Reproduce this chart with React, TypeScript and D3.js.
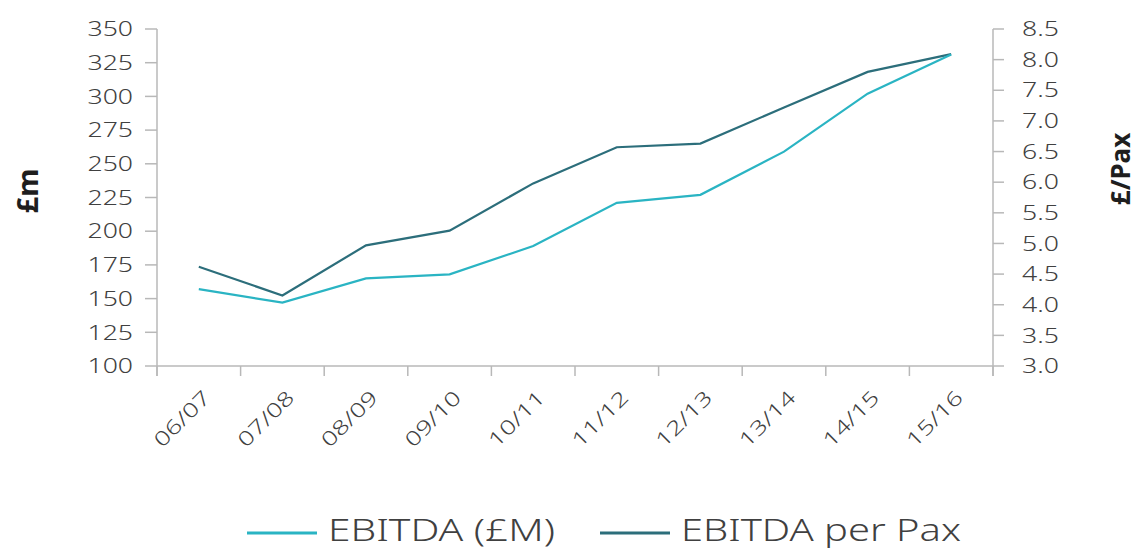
import React, { useRef, useEffect } from 'react';
import * as d3 from 'd3';

const years = ['06/07', '07/08', '08/09', '09/10', '10/11', '11/12', '12/13', '13/14', '14/15', '15/16'];
const ebitda = [157, 147, 165, 168, 189, 221, 227, 259, 302, 331];
const ebitdaPerPax = [4.62, 4.15, 4.97, 5.21, 5.98, 6.57, 6.63, 7.22, 7.8, 8.09];
const leftTicks = [100, 125, 150, 175, 200, 225, 250, 275, 300, 325, 350];
const rightTicks = [3.0, 3.5, 4.0, 4.5, 5.0, 5.5, 6.0, 6.5, 7.0, 7.5, 8.0, 8.5];

const W = 1138;
const H = 549;
const FONT = '"Noto Sans", sans-serif';
const LIGHT = '#2ab4c3';
const DARK = '#2c6e7b';
const AXIS = '#b8b8b8';
const TEXT = '#404040';
const SX = 1.33; // widen glyphs, the original face is a broad geometric sans

const App = () => {
  const ref = useRef<SVGSVGElement>(null);

  useEffect(() => {
    const svg = d3.select(ref.current);
    svg.selectAll('*').remove();

    const x0 = 157, x1 = 993, yTop = 29, yBot = 366;

    const x = d3.scaleBand<string>().domain(years).range([x0, x1]);
    const yL = d3.scaleLinear().domain([100, 350]).range([yBot, yTop]);
    const yR = d3.scaleLinear().domain([3, 8.5]).range([yBot, yTop]);

    // left axis
    const gl = svg.append('g').attr('transform', `translate(${x0},0)`);
    gl.append('line').attr('y1', yTop).attr('y2', yBot + 10).attr('stroke', AXIS).attr('stroke-width', 1.5);
    gl.selectAll('line.t').data(leftTicks).join('line').attr('class', 't')
      .attr('x1', -12).attr('x2', 0)
      .attr('y1', d => yL(d)).attr('y2', d => yL(d))
      .attr('stroke', AXIS).attr('stroke-width', 1.5);
    gl.selectAll('text').data(leftTicks).join('text')
      .attr('transform', d => `translate(-24,${yL(d)}) scale(${SX},1)`)
      .attr('dy', '0.36em')
      .attr('text-anchor', 'end').attr('font-size', 20).attr('fill', TEXT)
      .attr('font-family', FONT).attr('font-weight', 300)
      .text(d => d);

    // right axis
    const gr = svg.append('g').attr('transform', `translate(${x1},0)`);
    gr.append('line').attr('y1', yTop).attr('y2', yBot + 10).attr('stroke', AXIS).attr('stroke-width', 1.5);
    gr.selectAll('line.t').data(rightTicks).join('line').attr('class', 't')
      .attr('x1', 0).attr('x2', 11)
      .attr('y1', d => yR(d)).attr('y2', d => yR(d))
      .attr('stroke', AXIS).attr('stroke-width', 1.5);
    gr.selectAll('text').data(rightTicks).join('text')
      .attr('transform', d => `translate(29,${yR(d)}) scale(${SX},1)`)
      .attr('dy', '0.36em')
      .attr('text-anchor', 'start').attr('font-size', 20).attr('fill', TEXT)
      .attr('font-family', FONT).attr('font-weight', 300)
      .text(d => d3.format('.1f')(d));

    // bottom axis
    const gb = svg.append('g');
    gb.append('line').attr('x1', x0).attr('x2', x1).attr('y1', yBot).attr('y2', yBot)
      .attr('stroke', AXIS).attr('stroke-width', 1.5);
    const bounds = years.map(d => x(d) as number).concat([x1]);
    gb.selectAll('line.t').data(bounds).join('line').attr('class', 't')
      .attr('x1', d => d).attr('x2', d => d).attr('y1', yBot).attr('y2', yBot + 10)
      .attr('stroke', AXIS).attr('stroke-width', 1.5);
    gb.selectAll('text').data(years).join('text')
      .attr('transform', d => `translate(${(x(d) as number) + x.bandwidth() / 2 + 13},${yBot + 33}) rotate(-45) scale(${SX},1)`)
      .attr('text-anchor', 'end').attr('font-size', 20).attr('fill', TEXT)
      .attr('font-family', FONT).attr('font-weight', 300)
      .text(d => d);

    // axis titles
    svg.append('text')
      .attr('transform', `translate(38,191) rotate(-90)`)
      .attr('text-anchor', 'middle').attr('font-size', 29).attr('font-weight', 700)
      .attr('font-family', FONT).attr('fill', '#1e1e1e').text('£m');
    svg.append('text')
      .attr('transform', `translate(1130,169) rotate(-90)`)
      .attr('text-anchor', 'middle').attr('font-size', 26).attr('font-weight', 700)
      .attr('font-family', FONT).attr('fill', '#1e1e1e').text('£/Pax');

    // lines
    const cx = (d: string) => (x(d) as number) + x.bandwidth() / 2;
    const lineL = d3.line<number>().x((d, i) => cx(years[i])).y(d => yL(d));
    const lineR = d3.line<number>().x((d, i) => cx(years[i])).y(d => yR(d));
    svg.append('path').attr('d', lineR(ebitdaPerPax)).attr('fill', 'none')
      .attr('stroke', DARK).attr('stroke-width', 2.2);
    svg.append('path').attr('d', lineL(ebitda)).attr('fill', 'none')
      .attr('stroke', LIGHT).attr('stroke-width', 2.2);

    // legend
    const legend = [
      { label: 'EBITDA (£M)', color: LIGHT, x: 247, w: 227 },
      { label: 'EBITDA per Pax', color: DARK, x: 600, w: 280 },
    ];
    const lg = svg.selectAll('g.leg').data(legend).join('g').attr('class', 'leg')
      .attr('transform', d => `translate(${d.x},533)`);
    lg.append('line').attr('x1', 0).attr('x2', 70).attr('stroke', d => d.color).attr('stroke-width', 3);
    lg.append('text').attr('x', 81).attr('y', 8).attr('font-size', 31)
      .attr('font-family', FONT).attr('font-weight', 300).attr('fill', TEXT)
      .attr('textLength', d => d.w).attr('lengthAdjust', 'spacingAndGlyphs')
      .text(d => d.label);
  }, []);

  return (
    <svg ref={ref} width={W} height={H} style={{ position: 'absolute', left: 0, top: 0, background: '#fff' }} />
  );
};

export default App;
